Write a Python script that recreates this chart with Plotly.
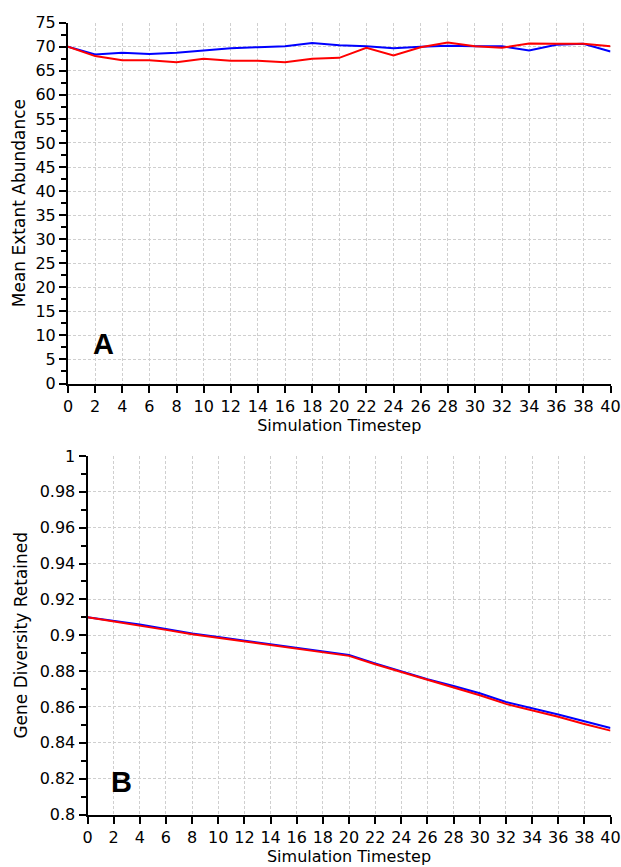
import plotly.graph_objects as go

# ---- data ----
timesteps = [0, 2, 4, 6, 8, 10, 12, 14, 16, 18, 20, 22, 24, 26, 28, 30, 32, 34, 36, 38, 40]

abund_blue = [70.0, 68.4, 68.75, 68.5, 68.75, 69.3, 69.7, 69.9, 70.1, 70.8, 70.3,
              70.1, 69.7, 70.0, 70.2, 70.1, 70.1, 69.2, 70.4, 70.6, 69.0]
abund_red = [70.0, 68.06, 67.2, 67.2, 66.8, 67.5, 67.1, 67.1, 66.8, 67.5, 67.7,
             69.8, 68.2, 69.9, 70.9, 70.1, 69.8, 70.7, 70.6, 70.6, 70.1]

gd_blue = [0.910, 0.908, 0.906, 0.9035, 0.901, 0.899, 0.897, 0.895, 0.893, 0.891, 0.889,
           0.8843, 0.880, 0.8755, 0.8717, 0.8676, 0.8628, 0.8594, 0.8558, 0.852, 0.8483]
gd_red = [0.910, 0.9078, 0.9055, 0.903, 0.9005, 0.8985, 0.8965, 0.8945, 0.8925, 0.8905, 0.8885,
          0.8838, 0.8795, 0.875, 0.871, 0.8665, 0.8617, 0.8582, 0.8545, 0.8505, 0.8468]

x_ticks = list(range(0, 41, 2))
panel_labels = ["A", "B"]

W, H = 621, 867
FONT = "DejaVu Sans, Verdana, sans-serif"
BOLD_FONT = "Liberation Sans, Arial, sans-serif"

fig = go.Figure()
fig.add_trace(go.Scatter(x=timesteps, y=abund_blue, mode="lines",
                         line=dict(color="#0000ff", width=2), xaxis="x", yaxis="y", showlegend=False))
fig.add_trace(go.Scatter(x=timesteps, y=abund_red, mode="lines",
                         line=dict(color="#ff0000", width=2), xaxis="x", yaxis="y", showlegend=False))
fig.add_trace(go.Scatter(x=timesteps, y=gd_blue, mode="lines",
                         line=dict(color="#0000ff", width=2), xaxis="x2", yaxis="y2", showlegend=False))
fig.add_trace(go.Scatter(x=timesteps, y=gd_red, mode="lines",
                         line=dict(color="#ff0000", width=2), xaxis="x2", yaxis="y2", showlegend=False))

grid = dict(showgrid=True, gridcolor="#cfcfcf", gridwidth=1, griddash="3px,2px")
axline = dict(showline=True, linecolor="black", linewidth=2, zeroline=False,
              ticks="outside", ticklen=7, tickwidth=1.5, tickcolor="black", automargin=False,
              ticklabeloverflow="allow",
              tickfont=dict(family=FONT, size=16, color="black"))

def px_x(p):
    return p / W

def px_y(p):
    return 1 - p / H

xdom_top = [px_x(68), px_x(610.5)]
ydom_top = [px_y(383.5), px_y(22.7)]
xdom_bot = [px_x(87.5), px_x(610.5)]
ydom_bot = [px_y(814.5), px_y(456)]

fig.update_layout(
    width=W, height=H,
    margin=dict(l=0, r=0, t=0, b=0),
    paper_bgcolor="white", plot_bgcolor="white",
    font=dict(family=FONT, size=16, color="black"),
    xaxis=dict(domain=xdom_top, anchor="y", range=[0, 40], tickvals=x_ticks,
               title=dict(text="Simulation Timestep", standoff=4, font=dict(size=16)),
               **grid, **axline),
    yaxis=dict(domain=ydom_top, anchor="x", range=[0, 75], tickvals=list(range(0, 76, 5)),
               minor=dict(tickvals=[v + 2.5 for v in range(0, 75, 5)], ticks="outside",
                          ticklen=5, tickcolor="black", showgrid=False),
               title=dict(text="Mean Extant Abundance", standoff=5, font=dict(size=17)),
               **grid, **axline),
    xaxis2=dict(domain=xdom_bot, anchor="y2", range=[0, 40], tickvals=x_ticks,
                title=dict(text="Simulation Timestep", standoff=4, font=dict(size=16)),
                **grid, **axline),
    yaxis2=dict(domain=ydom_bot, anchor="x2", range=[0.8, 1.0], dtick=0.02, tick0=0.8,
                minor=dict(dtick=0.01, ticks="outside", ticklen=5, tickcolor="black", showgrid=False),
                title=dict(text="Gene Diversity Retained", standoff=8, font=dict(size=17)),
                **grid, **axline),
)

# white label boxes (between gridlines and traces) and panel letters
boxes = [
    (68, 132.7, 312, 371, 103.3, 344),
    (87.5, 151, 745, 810, 121.7, 782.3),
]
for (x0, x1, y0, y1, cx, cy), lab in zip(boxes, panel_labels):
    fig.add_shape(type="rect", xref="paper", yref="paper",
                  x0=px_x(x0 + 1), x1=px_x(x1), y0=px_y(y1), y1=px_y(y0),
                  fillcolor="white", line=dict(width=0), layer="between")
    fig.add_annotation(x=px_x(cx), y=px_y(cy), xref="paper", yref="paper",
                       text="<b>%s</b>" % lab, showarrow=False,
                       font=dict(family=BOLD_FONT, size=29, color="black"),
                       xanchor="center", yanchor="middle")

fig.write_html("out.html", config={"displayModeBar": False},
               post_script="document.body.style.margin='0';document.body.style.padding='0';")
